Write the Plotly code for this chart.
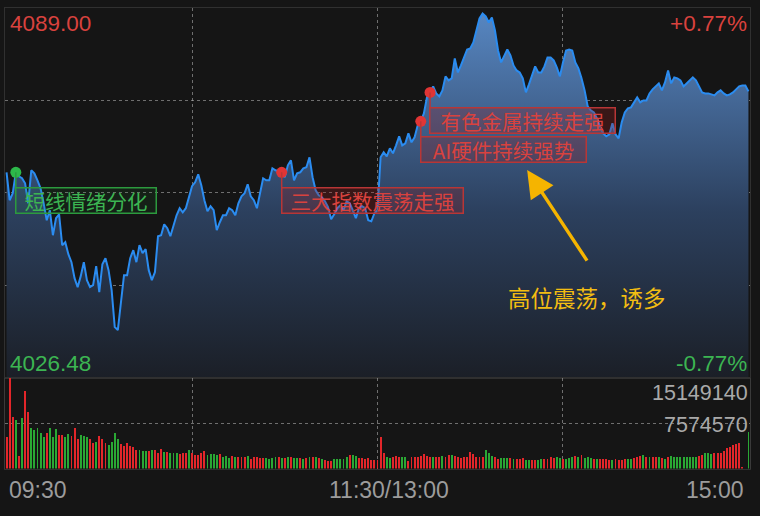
import plotly.graph_objects as go

# ---------------- data ----------------
axis_high = 4089.00
axis_low = 4026.48
prev_close = 4057.74
vol_max = 15149140
time_labels = ["09:30", "11:30/13:00", "15:00"]

price = [
    4061.20, 4056.47, 4057.65, 4061.20, 4060.53, 4060.19, 4059.34, 4055.96, 4061.54, 4061.03,
    4059.85, 4058.50, 4055.96, 4053.09, 4054.78, 4050.55, 4053.43, 4054.10, 4048.86, 4049.37,
    4047.34, 4045.99, 4043.29, 4041.77, 4043.63, 4045.99, 4042.95, 4041.77, 4042.10, 4045.32,
    4040.92, 4045.65, 4046.67, 4044.64, 4041.26, 4035.01, 4034.50, 4038.72, 4043.79, 4043.79,
    4046.67, 4048.02, 4045.99, 4048.86, 4047.51, 4048.19, 4044.64, 4042.95, 4044.30, 4050.39,
    4050.55, 4052.41, 4051.74, 4050.39, 4052.08, 4053.93, 4055.12, 4054.44, 4055.12, 4056.98,
    4058.84, 4059.51, 4060.86, 4059.00, 4056.47, 4054.61, 4055.46, 4054.78, 4051.40, 4052.75,
    4053.93, 4053.93, 4055.12, 4054.78, 4053.93, 4055.96, 4057.15, 4057.65, 4059.17, 4057.15,
    4056.47, 4055.12, 4057.82, 4060.19, 4059.85, 4059.85, 4061.88, 4061.54, 4061.37, 4061.20,
    4060.36, 4062.38, 4063.23, 4059.85, 4061.03, 4061.20, 4061.88, 4062.05, 4063.74, 4060.36,
    4058.16, 4057.31, 4056.98, 4056.30, 4055.29, 4053.26, 4054.10, 4055.12, 4055.62, 4054.78,
    4056.30, 4055.96, 4054.78, 4053.43, 4055.12, 4055.46, 4055.12, 4053.09, 4052.92, 4054.27,
    4054.78,
    4063.74, 4064.58, 4063.91, 4065.26, 4064.41, 4065.76, 4067.29, 4065.76, 4066.10,
    4067.79, 4066.27, 4067.12, 4069.14, 4069.82, 4071.17, 4073.88, 4074.72, 4075.74, 4074.55,
    4074.05, 4075.06, 4077.43, 4076.75, 4077.09, 4080.47, 4078.10, 4079.28, 4080.81, 4081.99,
    4082.16, 4083.17, 4085.20, 4087.23, 4088.07, 4087.57, 4086.55, 4087.40, 4085.20, 4081.82,
    4079.79, 4080.97, 4081.99, 4080.97, 4079.28, 4078.44, 4078.10, 4077.09, 4074.72, 4076.07,
    4077.76, 4079.12, 4078.10, 4078.10, 4079.12, 4080.64, 4080.64, 4080.13, 4078.95, 4077.43,
    4079.79, 4081.82, 4081.99, 4081.82, 4079.79, 4078.78, 4077.09, 4075.06, 4072.36, 4071.68,
    4071.34, 4070.33, 4068.98, 4067.79, 4067.29, 4067.62, 4069.48, 4067.62, 4066.95, 4069.65,
    4071.34, 4072.02, 4072.19, 4073.03, 4073.88, 4073.03, 4073.37, 4073.37, 4074.55, 4075.23,
    4075.74, 4076.24, 4075.06, 4076.41, 4078.44, 4076.24, 4077.26, 4077.09, 4076.75, 4075.74,
    4076.24, 4076.75, 4077.26, 4076.75, 4075.74, 4074.72, 4074.55, 4074.55, 4074.38, 4074.21,
    4074.72, 4075.06, 4074.55, 4074.21, 4074.38, 4074.72, 4075.23, 4075.74, 4075.90, 4075.90,
    4074.89,
]

# volume in millions of shares per minute
volume_m = [
    5.2, 15.1, 8.7, 8.2, 2.1, 8.4, 12.9, 9.5, 6.8, 6.5,
    6.7, 5.9, 5.3, 5.89, 6.7, 5.2, 6.6, 5.6, 5.6, 5.33,
    5.7, 5.44, 6.73, 4.94, 5.61, 5.5, 5.33, 4.94, 4.32, 4.49,
    5.44, 4.94, 4.32, 3.93, 4.49, 5.89, 4.94, 4.04, 3.76, 4.21,
    3.76, 3.53, 3.09, 3.09, 2.92, 2.92, 2.92, 3.09, 3.09, 2.52,
    3.2, 2.69, 2.8, 2.52, 2.52, 2.6, 2.41, 2.52, 2.52, 3.09,
    2.52, 2.24, 2.24, 2.52, 2.92, 2.24, 2.41, 2.41, 2.24, 2.41,
    1.85, 2.08, 1.68, 2.08, 1.96, 1.96, 1.96, 1.96, 2.08, 1.57,
    1.96, 1.85, 1.68, 1.68, 1.68, 1.57, 1.68, 1.85, 1.85, 1.68,
    1.68, 1.85, 1.85, 1.68, 1.68, 1.68, 1.57, 1.68, 1.96, 1.96,
    1.96, 1.68, 1.51, 1.40, 1.29, 1.29, 1.51, 1.57, 1.51, 1.57,
    1.85, 2.24, 2.24, 2.08, 1.68, 1.68, 1.57, 1.68, 1.40, 1.40,
    1.40,
    5.3, 2.52, 1.85, 1.68, 1.96, 2.08, 1.96, 1.85, 1.85, 1.2,
    1.85, 1.96, 1.96, 2.13, 2.35, 2.08, 1.96, 1.96, 1.96, 1.96,
    2.08, 1.96, 2.24, 2.24, 2.08, 1.85, 1.68, 1.85, 1.85, 2.69,
    2.41, 1.85, 1.96, 1.96, 3.09, 2.64, 2.08, 1.85, 1.57, 1.68,
    1.68, 1.79, 1.68, 1.57, 1.51, 1.57, 1.68, 1.40, 1.40, 1.40,
    1.40, 1.40, 1.51, 1.51, 1.51, 1.85, 1.68, 1.85, 1.68, 1.51,
    1.51, 1.68, 1.85, 2.08, 1.85, 2.24, 1.68, 1.85, 1.68, 1.57,
    1.57, 1.57, 1.51, 1.57, 1.40, 1.40, 1.51, 1.40, 1.40, 1.57,
    1.51, 1.51, 1.68, 1.85, 2.08, 2.24, 1.96, 1.85, 1.85, 1.96,
    1.85, 1.68, 1.57, 1.85, 2.08, 1.96, 1.96, 1.96, 1.96, 1.96,
    1.96, 1.96, 2.0, 2.08, 2.24, 2.52, 2.52, 2.41, 2.52, 2.52,
    2.64, 2.97, 3.37, 3.65, 3.9, 4.1, 4.3, 0.3, 0.0, 6.17,
]

# r = up (red), g = down (green)
vol_dir = list(
    "rrrgrgrrgg" "gggrgggrrg" "grrrgggrrg" "rrrggggrrr" "rrrgggrgrr"
    "rgrgggrrrg" "rrrrrggggr" "gggrgrrrgr" "rrrrggggrg" "rgrggrgrgr"
    "grgrrrgggg" "grggrrrrrr" "r"
    "rrggrrrggr" "rrrrrrrgrr" "grrgrrrrrr" "rrrrgggrrg" "ggrgrrrggr"
    "rggrrrrggr" "gggrgrgggr" "grrrrgrrrr" "ggrrrgrgrr" "grgrgggggg"
    "gggrrgggrrrrrrrrrrrg"
)

# news labels: (minute index, text, colour key)
events = [
    (3, "短线情绪分化", "g"),
    (89, "三大指数震荡走强", "r"),
    (134, "AI硬件持续强势", "r"),
    (137, "有色金属持续走强", "r"),
]
event_box_w = [142, 183, 167, 187]
comment_text = "高位震荡，诱多"

# ---------------- figure ----------------
W, H = 760, 516
idx = list(range(len(price)))
volume = [v * 1e6 for v in volume_m]

RED_TXT = "#d9423e"
GRN_TXT = "#3cb552"
RED_BAR = "#e3262a"
GRN_BAR = "#2aa834"
GRID = "rgba(185,185,185,0.55)"
FRAME = "#303030"
BG = "#151515"

price_dom = [1 - 377.5 / H, 1 - 8 / H]
vol_dom = [1 - 468.5 / H, 1 - 378 / H]
x_dom = [5 / W, 750 / W]

px_per_price = (price_dom[1] - price_dom[0]) * H / (axis_high - axis_low)

fig = go.Figure()

fig.add_trace(go.Scatter(
    x=idx, y=price, mode="lines",
    line=dict(color="#2b8cf0", width=2),
    fill="tozeroy",
    fillgradient=dict(
        type="vertical", start=axis_low, stop=axis_high,
        colorscale=[[0, "rgb(27,31,39)"], [0.45, "rgb(44,64,94)"], [1, "rgb(88,136,196)"]],
    ),
    xaxis="x", yaxis="y", showlegend=False, hoverinfo="skip",
))

fig.add_trace(go.Bar(
    x=idx, y=volume,
    marker=dict(color=[RED_BAR if d == "r" else GRN_BAR for d in vol_dir], line_width=0),
    width=0.62, xaxis="x2", yaxis="y2", showlegend=False, hoverinfo="skip",
))

# event markers
ev_x = [e[0] for e in events]
ev_y = [price[e[0]] for e in events]
ev_c = ["#2db84a" if e[2] == "g" else "#e03535" for e in events]
fig.add_trace(go.Scatter(
    x=ev_x, y=ev_y, mode="markers",
    marker=dict(size=11, color=ev_c), xaxis="x", yaxis="y",
    showlegend=False, hoverinfo="skip",
))

shapes = []
annotations = []
for (i, txt, c), bw in zip(events, event_box_w):
    col = GRN_TXT if c == "g" else RED_TXT
    border = "#2c9a3e" if c == "g" else "#b83636"
    bg = "rgba(30,140,50,0.10)" if c == "g" else "rgba(150,30,30,0.28)"
    drop = 15 / px_per_price
    shapes.append(dict(type="line", xref="x", yref="y", x0=i, x1=i,
                       y0=price[i], y1=price[i] - drop,
                       line=dict(color=border, width=1.5), layer="above"))
    annotations.append(dict(
        x=i, y=price[i] - drop, xref="x", yref="y", xanchor="left", yanchor="top",
        text=txt, showarrow=False, xshift=-1,
        font=dict(family="Noto Sans CJK SC", size=20.5, color=col),
        bordercolor=border, borderwidth=1.5, borderpad=0, bgcolor=bg,
        width=bw - 3, height=24,
    ))

# yellow arrow + comment
tip_i, tip_p = 168.4, 4061.6
tail_i, tail_p = 188.1, 4046.0
annotations.append(dict(
    x=tip_i, y=tip_p, ax=tail_i, ay=tail_p, xref="x", yref="y", axref="x", ayref="y",
    text="", showarrow=True, arrowhead=2, arrowsize=1.6, arrowwidth=3.4,
    arrowcolor="#f5b400",
))
annotations.append(dict(
    x=587 / W, y=1 - 297 / H, xref="paper", yref="paper", xanchor="center", yanchor="middle",
    text=comment_text, showarrow=False,
    font=dict(family="Noto Sans CJK SC", size=22.5, color="#f2bd12"),
))

pct = (axis_high - prev_close) / prev_close * 100
num_font = "Liberation Sans, Arial, sans-serif"


def lab(x, y, t, color, anchor, size=22.5):
    annotations.append(dict(x=x / W, y=1 - y / H, xref="paper", yref="paper",
                            xanchor=anchor, yanchor="middle", text=t, showarrow=False,
                            font=dict(family=num_font, size=size, color=color)))


lab(8, 24, f"{axis_high:.2f}", RED_TXT, "left")
lab(749, 24, f"+{pct:.2f}%", RED_TXT, "right")
lab(8, 363, f"{axis_low:.2f}", GRN_TXT, "left")
lab(749, 363, f"-{pct:.2f}%", GRN_TXT, "right")
lab(750, 393, f"{vol_max}", "#a9a9a9", "right", 21.5)
lab(750, 425, f"{vol_max // 2}", "#a9a9a9", "right", 21.5)
lab(7, 490, time_labels[0], "#9c9c9c", "left", 23)
lab(389, 490, time_labels[1], "#9c9c9c", "center", 23)
lab(746, 490, time_labels[2], "#9c9c9c", "right", 23)

grid_x = [60, 120, 180]
grid_y = [axis_low + (axis_high - axis_low) * k / 4 for k in (1, 2, 3)]

axis_common = dict(showticklabels=False, ticks="", zeroline=False,
                   showline=True, mirror=True, linecolor=FRAME, linewidth=1,
                   gridcolor=GRID, griddash="dot", gridwidth=1)

fig.update_layout(
    width=W, height=H, margin=dict(l=0, r=0, t=0, b=0),
    paper_bgcolor=BG, plot_bgcolor=BG,
    xaxis=dict(domain=x_dom, range=[-0.5, 240.5], anchor="y", tickvals=grid_x, **axis_common),
    yaxis=dict(domain=price_dom, range=[axis_low, axis_high], anchor="x", tickvals=grid_y, **axis_common),
    xaxis2=dict(domain=x_dom, range=[-0.5, 240.5], anchor="y2", tickvals=grid_x, **axis_common),
    yaxis2=dict(domain=vol_dom, range=[0, vol_max], anchor="x2", tickvals=[vol_max / 2],
                **{**axis_common, "linecolor": "#3a3a3a"}),
    shapes=shapes, annotations=annotations, bargap=0,
)

fig.write_html(
    "out.html",
    config={"displayModeBar": False, "staticPlot": True},
    post_script="document.body.style.margin='0';document.body.style.padding='0';"
                "document.body.style.overflow='hidden';document.body.style.background='#151515';",
)
